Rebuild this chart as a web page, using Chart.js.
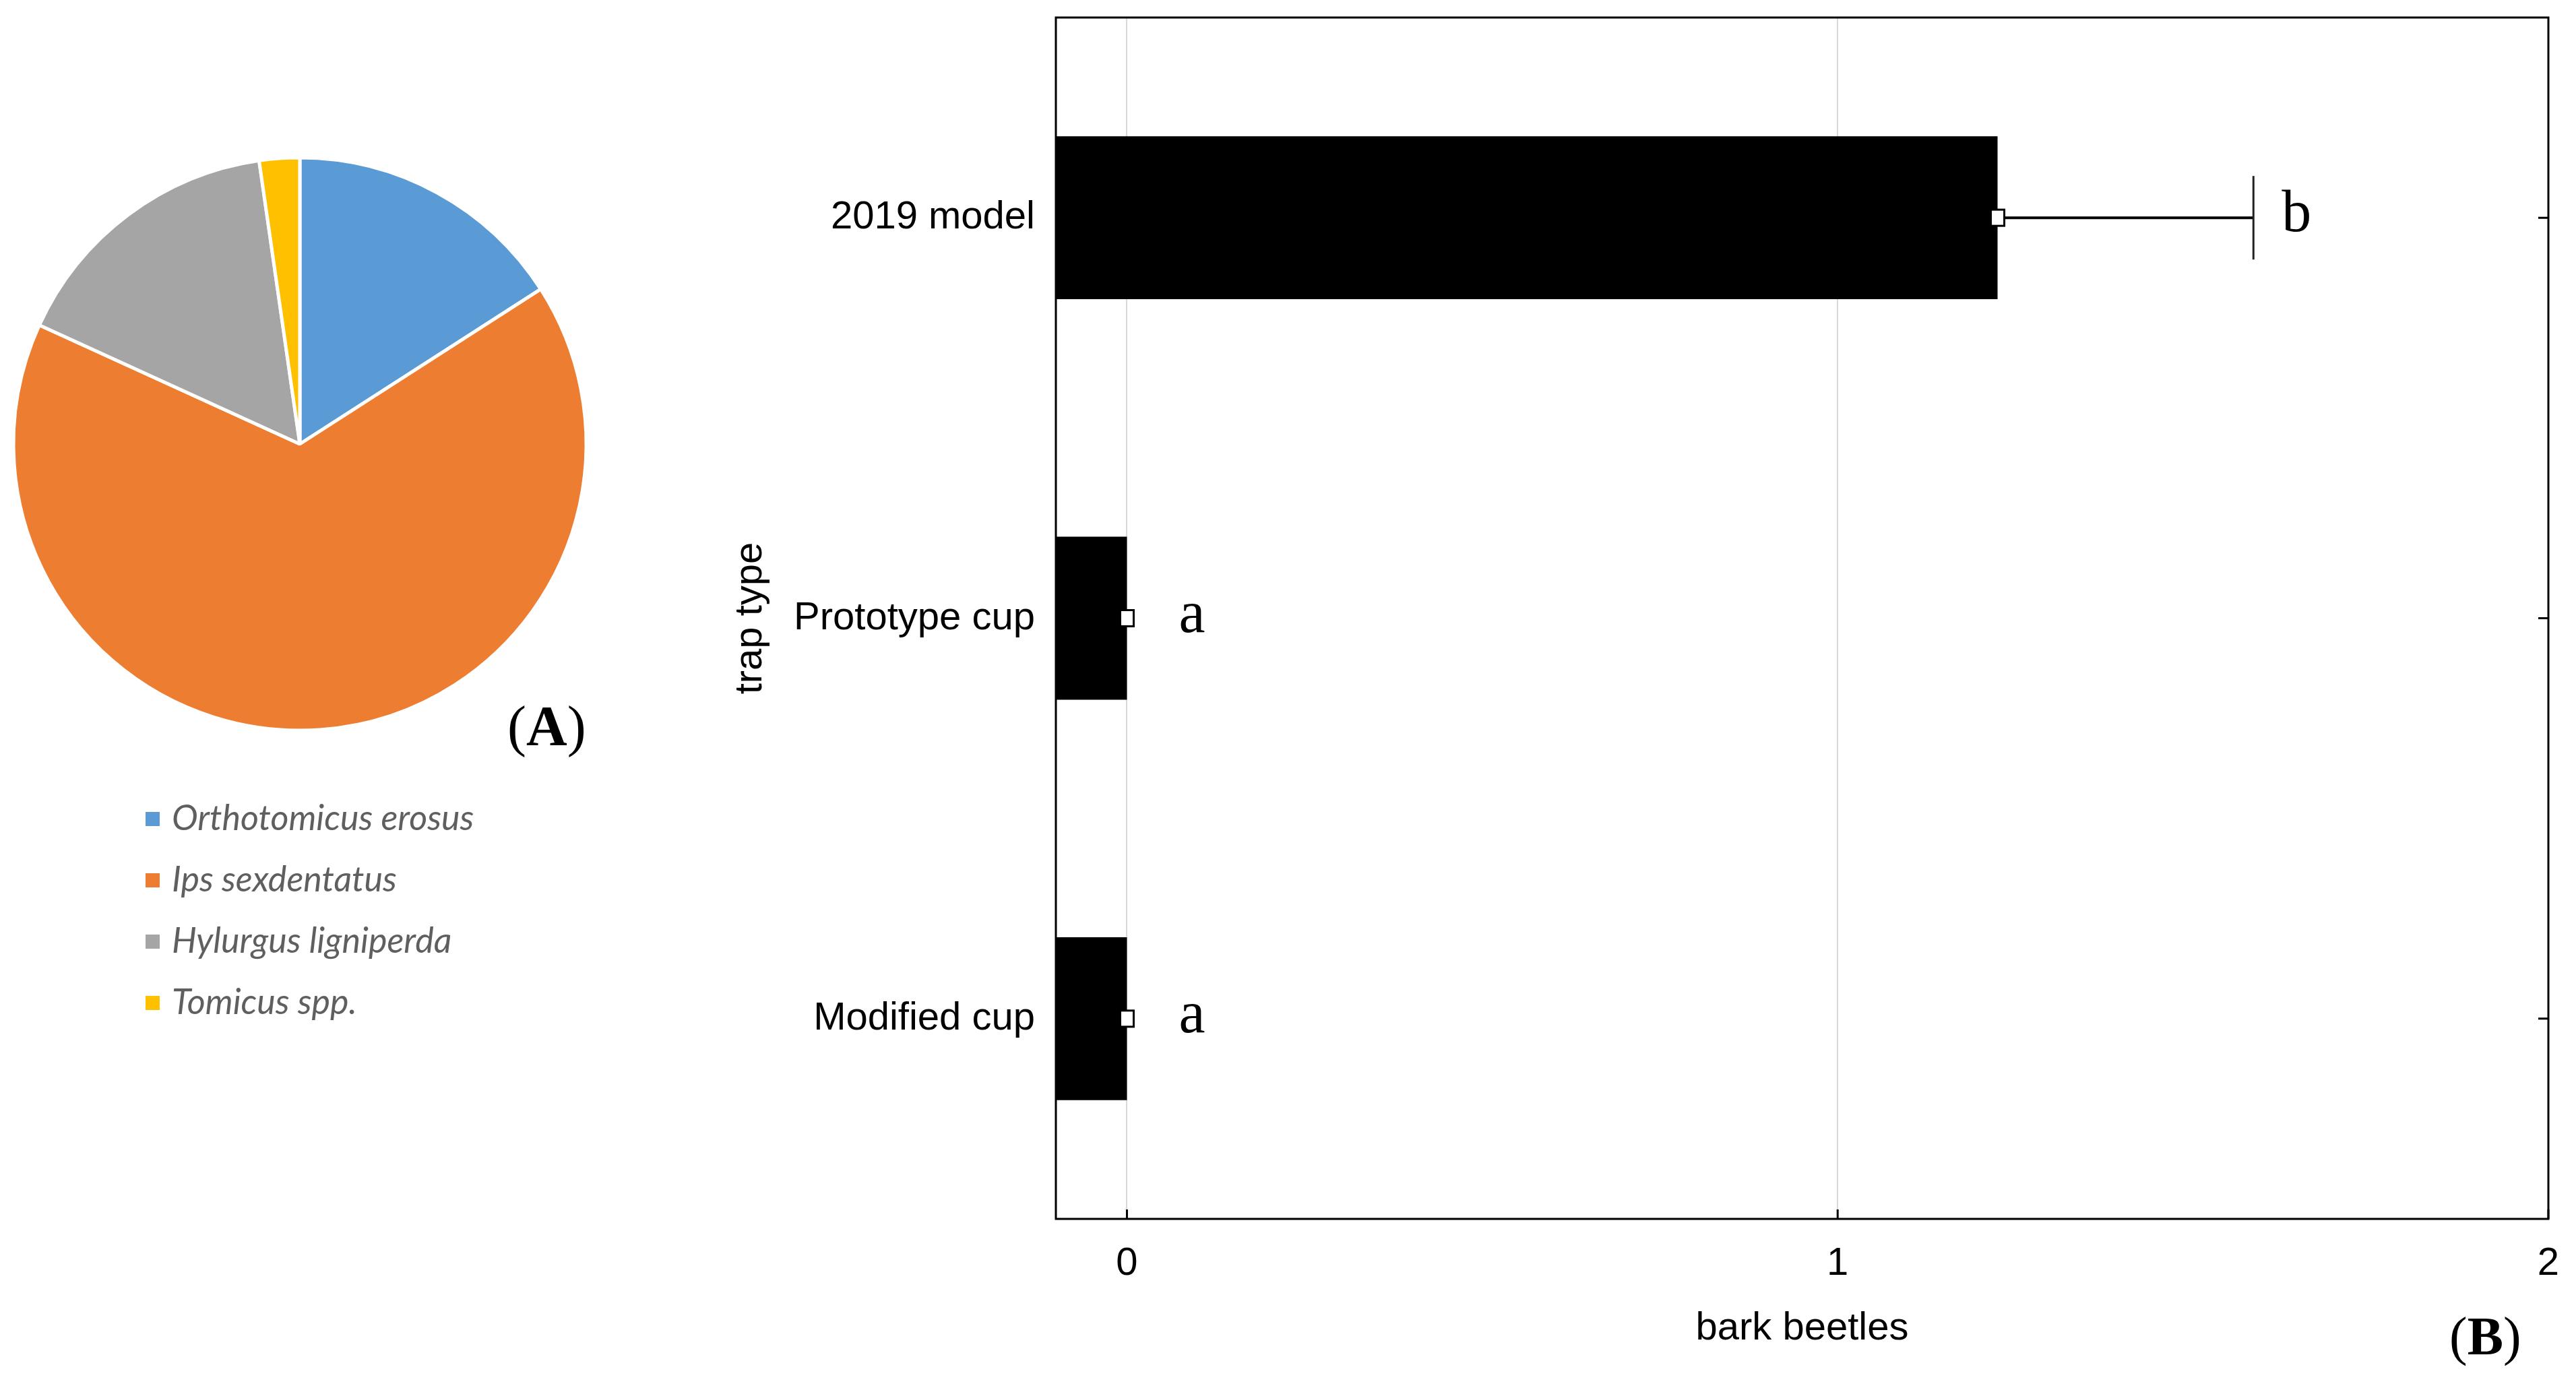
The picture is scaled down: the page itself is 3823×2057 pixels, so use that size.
<!DOCTYPE html>
<html>
<head>
<meta charset="utf-8">
<title>Bark beetles by species and trap type</title>
<script src="https://cdn.jsdelivr.net/npm/chart.js@4.4.0/dist/chart.umd.min.js"></script>
<style>
  body { margin: 0; background: #fff; }
  #page { position: relative; width: 3823px; height: 2057px; overflow: hidden; }
  .box { position: absolute; }
  .panel { position: absolute; font-family: 'Liberation Serif', 'Times New Roman', serif; line-height: 1; color: #000; white-space: nowrap; }
</style>
</head>
<body>
<div id="page">
  <div class="box" style="left:0;top:0;width:890px;height:1600px"><canvas id="pieChart"></canvas></div>
  <div class="box" style="left:1000px;top:0;width:2823px;height:2057px"><canvas id="barChart"></canvas></div>
  <div class="panel" style="left:753px;top:1036px;font-size:84px">(<b>A</b>)</div>
  <div class="panel" style="left:3635px;top:1943px;font-size:80px">(<b>B</b>)</div>
</div>
<script>
// (A) share of each species in the catch
var species = ['Orthotomicus erosus', 'Ips sexdentatus', 'Hylurgus ligniperda', 'Tomicus spp.'];
var speciesCounts = [7, 29, 7, 1];
var speciesColors = ['#5b9bd5', '#ed7d31', '#a5a5a5', '#ffc000'];

// (B) mean bark beetles per trap type, with error and group letters
var trapTypes = ['2019 model', 'Prototype cup', 'Modified cup'];
var meanBeetles = [1.225, 0, 0];
var errBeetles = [0.36, 0, 0];
var groupLetters = ['b', 'a', 'a'];
var xTicks = [0, 1, 2];
var xMin = -0.1;
var xMax = 2;

var sans = "'Liberation Sans', Arial, sans-serif";
Chart.defaults.font.family = sans;
Chart.defaults.color = '#000';

// legend under the pie, one species per row
var speciesLegend = {
    id: 'speciesLegend',
    afterDraw: function (chart) {
        var ctx = chart.ctx;
        var ds = chart.data.datasets[0];
        ctx.save();
        ctx.font = 'italic 52px Lato, "Open Sans", sans-serif';
        ctx.textBaseline = 'middle';
        chart.data.labels.forEach(function (label, i) {
            var y = 1215 + i * 91;
            ctx.fillStyle = ds.backgroundColor[i];
            ctx.fillRect(216, y - 10, 21, 21);
            ctx.fillStyle = '#5f5f5f';
            ctx.fillText(label, 255, y);
        });
        ctx.restore();
    }
};

// box round the plot plus the small inner ticks
var frame = {
    id: 'frame',
    afterDraw: function (chart) {
        var a = chart.chartArea;
        var ctx = chart.ctx;
        var xs = chart.scales.x;
        var ys = chart.scales.y;
        ctx.save();
        ctx.strokeStyle = '#000';
        ctx.lineWidth = 3;
        ctx.strokeRect(a.left, a.top, a.right - a.left, a.bottom - a.top);
        ctx.beginPath();
        xTicks.forEach(function (v) {
            var x = xs.getPixelForValue(v);
            ctx.moveTo(x, a.bottom);
            ctx.lineTo(x, a.bottom - 14);
        });
        trapTypes.forEach(function (t, i) {
            var y = ys.getPixelForValue(i);
            ctx.moveTo(a.right, y);
            ctx.lineTo(a.right - 15, y);
        });
        ctx.stroke();
        ctx.restore();
    }
};

// whiskers, mean markers and the a/b letters
var errorBars = {
    id: 'errorBars',
    afterDatasetsDraw: function (chart) {
        var ctx = chart.ctx;
        var xs = chart.scales.x;
        var ys = chart.scales.y;
        ctx.save();
        meanBeetles.forEach(function (m, i) {
            var y = ys.getPixelForValue(i);
            var x0 = xs.getPixelForValue(m);
            var x1 = xs.getPixelForValue(m + errBeetles[i]);
            ctx.strokeStyle = '#000';
            if (errBeetles[i] > 0) {
                ctx.lineWidth = 4;
                ctx.beginPath();
                ctx.moveTo(x0, y);
                ctx.lineTo(x1, y);
                ctx.stroke();
                ctx.lineWidth = 3;
                ctx.strokeStyle = '#222';
                ctx.beginPath();
                ctx.moveTo(x1, y - 62);
                ctx.lineTo(x1, y + 62);
                ctx.stroke();
            }
            ctx.fillStyle = '#fff';
            ctx.strokeStyle = '#000';
            ctx.lineWidth = 3;
            ctx.fillRect(x0 - 10, y - 12, 20, 24);
            ctx.strokeRect(x0 - 10, y - 12, 20, 24);

            ctx.fillStyle = '#000';
            ctx.font = "88px 'Liberation Serif', 'Times New Roman', serif";
            ctx.textBaseline = 'alphabetic';
            ctx.fillText(groupLetters[i], Math.max(x1, x0 + 35) + 42, y + 20);
        });
        ctx.restore();
    }
};

new Chart(document.getElementById('pieChart'), {
    type: 'pie',
    data: {
        labels: species,
        datasets: [{
            data: speciesCounts,
            backgroundColor: speciesColors,
            borderColor: '#fff',
            borderWidth: 5,
            radius: 425
        }]
    },
    options: {
        responsive: true,
        maintainAspectRatio: false,
        animation: false,
        layout: { padding: { bottom: 282 } },
        plugins: {
            legend: { display: false },
            tooltip: { enabled: false }
        }
    },
    plugins: [speciesLegend]
});

new Chart(document.getElementById('barChart'), {
    type: 'bar',
    data: {
        labels: trapTypes,
        datasets: [{
            data: meanBeetles,
            base: xMin,
            backgroundColor: '#000',
            borderWidth: 0,
            barPercentage: 0.407,
            categoryPercentage: 1
        }]
    },
    options: {
        indexAxis: 'y',
        responsive: true,
        maintainAspectRatio: false,
        animation: false,
        layout: { padding: { left: 79, right: 41, top: 26, bottom: 0 } },
        plugins: {
            legend: { display: false },
            tooltip: { enabled: false }
        },
        scales: {
            x: {
                min: xMin,
                max: xMax,
                afterBuildTicks: function (scale) {
                    scale.ticks = xTicks.map(function (v) { return { value: v }; });
                },
                afterFit: function (scale) {
                    scale.height = 248;
                    scale.paddingLeft = 0;
                    scale.paddingRight = 0;
                },
                grid: { color: '#d8d8d8', lineWidth: 2, drawTicks: false },
                border: { display: false },
                ticks: { padding: 32, color: '#000', font: { size: 58 } },
                title: {
                    display: true,
                    text: 'bark beetles',
                    color: '#000',
                    font: { size: 58 },
                    padding: { top: 0, bottom: 50 }
                }
            },
            y: {
                afterFit: function (scale) {
                    scale.width = 488;
                    scale.paddingTop = 0;
                    scale.paddingBottom = 0;
                },
                grid: { display: false, drawTicks: false },
                border: { display: false },
                ticks: { padding: 31, color: '#000', font: { size: 58 } },
                title: {
                    display: true,
                    text: 'trap type',
                    color: '#000',
                    font: { size: 58 },
                    padding: { top: 0, bottom: 35 }
                }
            }
        }
    },
    plugins: [errorBars, frame]
});
</script>
</body>
</html>
